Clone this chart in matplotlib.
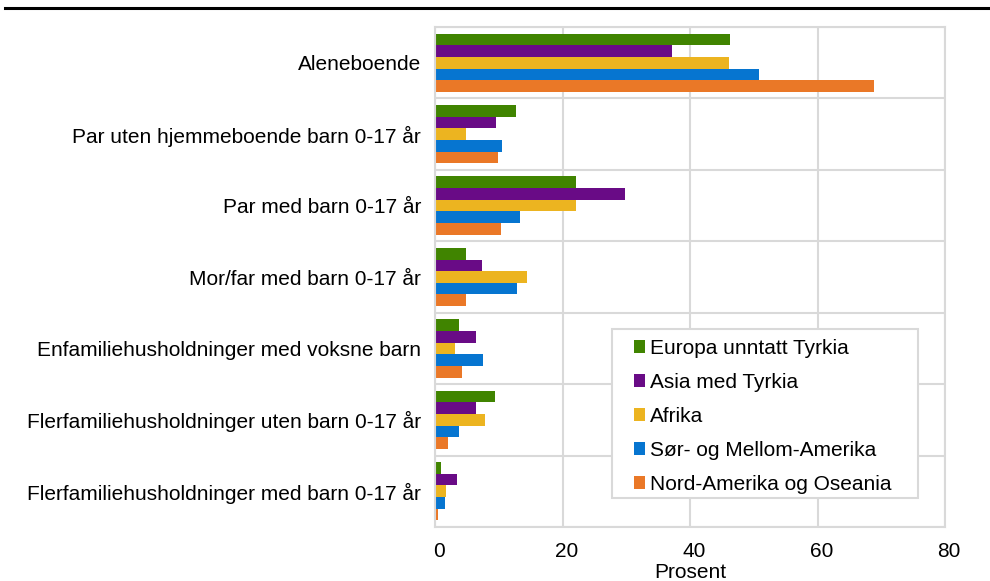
import matplotlib
matplotlib.use("Agg")
import matplotlib.pyplot as plt
import numpy as np
from matplotlib.patches import Patch, Rectangle
from matplotlib.lines import Line2D
import matplotlib.transforms as mtransforms

plt.rcParams['font.family'] = ['Liberation Sans', 'DejaVu Sans']

kategorier = ["Aleneboende",
              "Par uten hjemmeboende barn 0-17 år",
              "Par med barn 0-17 år",
              "Mor/far med barn 0-17 år",
              "Enfamiliehusholdninger med voksne barn",
              "Flerfamiliehusholdninger uten barn 0-17 år",
              "Flerfamiliehusholdninger med barn 0-17 år"]

serier = ["Europa unntatt Tyrkia", "Asia med Tyrkia", "Afrika",
          "Sør- og Mellom-Amerika", "Nord-Amerika og Oseania"]

europa = [46.3, 12.7, 22.1, 4.9, 3.8, 9.4, 0.9]
asia = [37.1, 9.5, 29.8, 7.4, 6.4, 6.4, 3.4]
afrika = [46.1, 4.8, 22.1, 14.5, 3.2, 7.9, 1.8]
sor_mellom_amerika = [50.9, 10.5, 13.3, 12.8, 7.6, 3.7, 1.6]
nord_amerika_oseania = [68.9, 9.9, 10.3, 4.8, 4.2, 2.1, 0.4]

farger = ["#408400", "#690b86", "#ecb420", "#0675d0", "#ea7827"]

x_ticks = [0, 20, 40, 60, 80]

grid_farge = "#d9d9d9"

fig = plt.figure(figsize=(9.9, 5.81), dpi=100)
ax = fig.add_axes([435/990, 1 - 527/581, 510/990, 500/581])

y = np.arange(len(kategorier))
h = 0.163
verdier = [europa, asia, afrika, sor_mellom_amerika, nord_amerika_oseania]
for k in range(len(serier)):
    ax.barh(y + (k - 2) * h, verdier[k], height=h, color=farger[k],
            edgecolor='none', zorder=2)

ax.set_xlim(0, 80)
ax.set_ylim(len(kategorier) - 0.5, -0.5)
ax.set_xticks(x_ticks)
ax.set_xticklabels([str(v) for v in x_ticks], fontsize=15)
ax.set_yticks(y)
ax.set_yticklabels(kategorier, fontsize=15)
ax.set_yticks(np.arange(len(kategorier) + 1) - 0.5, minor=True)
ax.tick_params(axis='both', which='both', length=0)
ax.tick_params(axis='x', pad=11)
ax.tick_params(axis='y', pad=10)

# skyv tallene litt til høyre som i originalen
offset = mtransforms.ScaledTranslation(4/100, 0, fig.dpi_scale_trans)
for lab in ax.get_xticklabels():
    lab.set_transform(lab.get_transform() + offset)

ax.grid(axis='x', which='major', color=grid_farge, lw=1.5, zorder=0)
ax.grid(axis='y', which='minor', color=grid_farge, lw=1.5, zorder=0)
for s in ax.spines.values():
    s.set_color(grid_farge)
    s.set_linewidth(1.5)

ax.set_xlabel("Prosent", fontsize=15, labelpad=1)

# legend med egen ramme
ax.add_patch(Rectangle((0.347, 0.058), 0.6, 0.338, transform=ax.transAxes,
                       facecolor='white', edgecolor=grid_farge, lw=1.5, zorder=4))
handles = [Patch(facecolor=farger[k], edgecolor='none') for k in range(len(serier))]
ax.legend(handles, serier, loc='upper left', bbox_to_anchor=(0.390, 0.376),
          frameon=False, fontsize=15, borderpad=0, borderaxespad=0,
          handlelength=0.55, handleheight=0.55, handletextpad=0.2,
          labelspacing=0.72)

fig.add_artist(Line2D([5/990, 1], [1 - 7.5/581, 1 - 7.5/581], color='black',
                      lw=2.2, transform=fig.transFigure))

plt.savefig("out.png", dpi=100)
